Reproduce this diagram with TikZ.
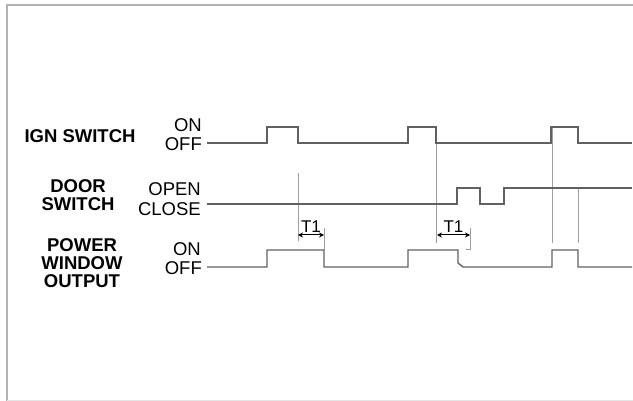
\documentclass[tikz,border=0pt]{standalone}
\usepackage{fontspec}
\setmainfont{Liberation Sans}
\usetikzlibrary{arrows.meta,positioning}

\tikzset{
  signal/.style={draw=black!62, line width=1.4pt, line join=miter},
  marker/.style={draw=black!38, line width=0.8pt},
  namelabel/.style={font=\bfseries\fontsize{18.5}{18}\selectfont, align=center, inner sep=0pt},
  statelabel/.style={font=\fontsize{18.5}{18}\selectfont, inner sep=0pt, anchor=base east},
  span/.style={draw=black, line width=1pt, {Stealth[length=5pt,width=5pt]}-{Stealth[length=5pt,width=5pt]}},
}

\begin{document}
\begin{tikzpicture}[x=1pt, y=-1pt]
\useasboundingbox (0,0) rectangle (633,401);
\draw[black!30, line width=1.6pt] (7,401) -- (7,5) -- (633,5);
\draw[black!10, line width=1pt] (7,400) -- (633,400);

\node[namelabel, anchor=base] (ign) at (80,143) {IGN SWITCH};
\node[namelabel] (door) at (78,195.5) {DOOR\\SWITCH};
\node[namelabel] (pw) at (82,263) {POWER\\WINDOW\\OUTPUT};

\node[statelabel] (ignon) at (202,132) {ON};
\node[statelabel] (ignoff) at (202,151) {OFF};
\node[statelabel] (dooropen) at (201,196) {OPEN};
\node[statelabel] (doorclose) at (201,216) {CLOSE};
\node[statelabel] (pwon) at (201,256) {ON};
\node[statelabel] (pwoff) at (202,275) {OFF};

% timing markers
\draw[marker] (298,173) -- (298,241);
\draw[marker] (436,127) -- (436,243);
\draw[marker] (552,127) -- (552,243);
\draw[marker] (578,187) -- (578,243);
\draw[marker] (324,228) -- (324,250);
\draw[marker] (470,228) -- (470,249) -- (466,249);

% waveforms
\draw[signal] (207,143) -- (267,143) -- (267,127) -- (298,127) -- (298,143)
  -- (408,143) -- (408,127) -- (436,127) -- (436,143)
  -- (551,143) -- (551,127) -- (578,127) -- (578,143) -- (632,143);
\draw[signal] (207,204) -- (457,204) -- (457,188) -- (480,188) -- (480,204)
  -- (504,204) -- (504,188) -- (632,188);
\draw[signal] (207,267) -- (267,267) -- (267,250) -- (324,250) -- (324,267)
  -- (408,267) -- (408,250) -- (458,250) -- (458,263) -- (463,267)
  -- (552,267) -- (552,250) -- (578,250) -- (578,267) -- (632,267);

% delay T1
\coordinate (t1a) at (298,235);
\coordinate (t1b) at (324,235);
\coordinate (t2a) at (437,235);
\coordinate (t2b) at (470,235);
\draw[span] (t1a) -- node[above=1.5pt, font=\fontsize{17}{17}\selectfont, inner sep=0pt] {T1} (t1b);
\draw[span] (t2a) -- node[above=1.5pt, font=\fontsize{17}{17}\selectfont, inner sep=0pt] {T1} (t2b);
\end{tikzpicture}
\end{document}
